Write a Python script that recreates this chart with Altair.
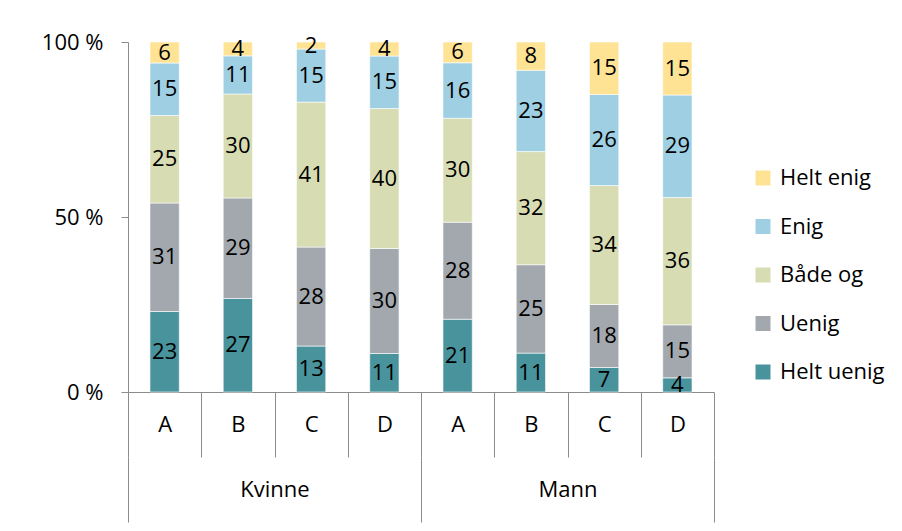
import altair as alt
import pandas as pd

groups = ["Kvinne"] * 4 + ["Mann"] * 4
letters = ["A", "B", "C", "D", "A", "B", "C", "D"]
categories = ["Helt uenig", "Uenig", "Både og", "Enig", "Helt enig"]
helt_uenig = [23, 27, 13, 11, 21, 11, 7, 4]
uenig = [31, 29, 28, 30, 28, 25, 18, 15]
bade_og = [25, 30, 41, 40, 30, 32, 34, 36]
enig = [15, 11, 15, 15, 16, 23, 26, 29]
helt_enig = [6, 4, 2, 4, 6, 8, 15, 15]
series = [helt_uenig, uenig, bade_og, enig, helt_enig]
colors = {"Helt enig": "#FFE395", "Enig": "#9ECFE3", "Både og": "#D7DCB3",
          "Uenig": "#A2A8AE", "Helt uenig": "#48939C"}

FONT = "Open Sans"
FS = 22
GRAY = "#8c8c8c"

keys = [f"{g} {l}" for g, l in zip(groups, letters)]
rows = []
for i in range(8):
    for j, (cat, vals) in enumerate(zip(categories, series)):
        rows.append(dict(key=keys[i], group=groups[i], letter=letters[i],
                         cat=cat, order=j, value=vals[i]))
df = pd.DataFrame(rows)

legend_order = ["Helt enig", "Enig", "Både og", "Uenig", "Helt uenig"]

base = alt.Chart(df).transform_stack(
    stack="value", as_=["y0", "y1"], groupby=["key"],
    sort=[alt.SortField("order", order="ascending")], offset="normalize"
).transform_calculate(mid="(datum.y0 + datum.y1) / 2")

xenc = alt.X("key:N", sort=keys, title=None,
             scale=alt.Scale(paddingInner=0, paddingOuter=0),
             axis=alt.Axis(labelExpr="slice(datum.label, -1)", labelAngle=0,
                           tickSize=65, tickBand="extent", tickColor=GRAY,
                           domainColor=GRAY, labelPadding=-33,
                           labelBaseline="middle", labelFontSize=FS,
                           labelFont=FONT, labelColor="black", grid=False))

yscale = alt.Scale(domain=[0, 1], nice=False)

bars = base.mark_bar(width=alt.RelativeBandSize(0.4), stroke="white",
                     strokeWidth=0.6).encode(
    x=xenc,
    y=alt.Y("y0:Q", scale=yscale, title=None,
            axis=alt.Axis(values=[0, 0.5, 1], labelExpr="round(datum.value*100) + ' %'",
                          tickSize=7, tickColor=GRAY, domainColor=GRAY,
                          labelPadding=18, labelFontSize=FS, labelFont=FONT,
                          labelColor="black", grid=False)),
    y2="y1:Q",
    color=alt.Color("cat:N", scale=alt.Scale(domain=legend_order,
                                             range=[colors[c] for c in legend_order]),
                    legend=alt.Legend(title=None, orient="none", legendX=624,
                                      legendY=125, symbolType="square",
                                      symbolSize=225, symbolStrokeWidth=0,
                                      labelFontSize=FS, labelFont=FONT,
                                      labelColor="black", rowPadding=26.5,
                                      labelOffset=6, padding=0)),
)

labels = base.mark_text(fontSize=FS, font=FONT, color="black",
                        baseline="middle").encode(
    x=alt.X("key:N", sort=keys),
    y=alt.Y("mid:Q", scale=yscale),
    text="value:Q",
)

main = alt.layer(bars, labels)

grp = alt.Chart(df).mark_point(opacity=0).encode(
    x=alt.X("group:N", sort=["Kvinne", "Mann"], title=None,
            scale=alt.Scale(paddingInner=0, paddingOuter=0),
            axis=alt.Axis(orient="bottom", offset=65, tickSize=65,
                          tickBand="extent", tickColor=GRAY, domain=False,
                          labelPadding=-33, labelBaseline="middle",
                          labelAngle=0, labelFontSize=FS, labelFont=FONT,
                          labelColor="black", grid=False)),
)

chart = alt.layer(main, grp).resolve_scale(x="independent").properties(
    width=586, height=350,
    padding={"left": 33, "top": 23, "right": 5, "bottom": 5},
).configure_view(stroke=None)

chart.save("out.html", embed_options={"renderer": "svg", "actions": False})
